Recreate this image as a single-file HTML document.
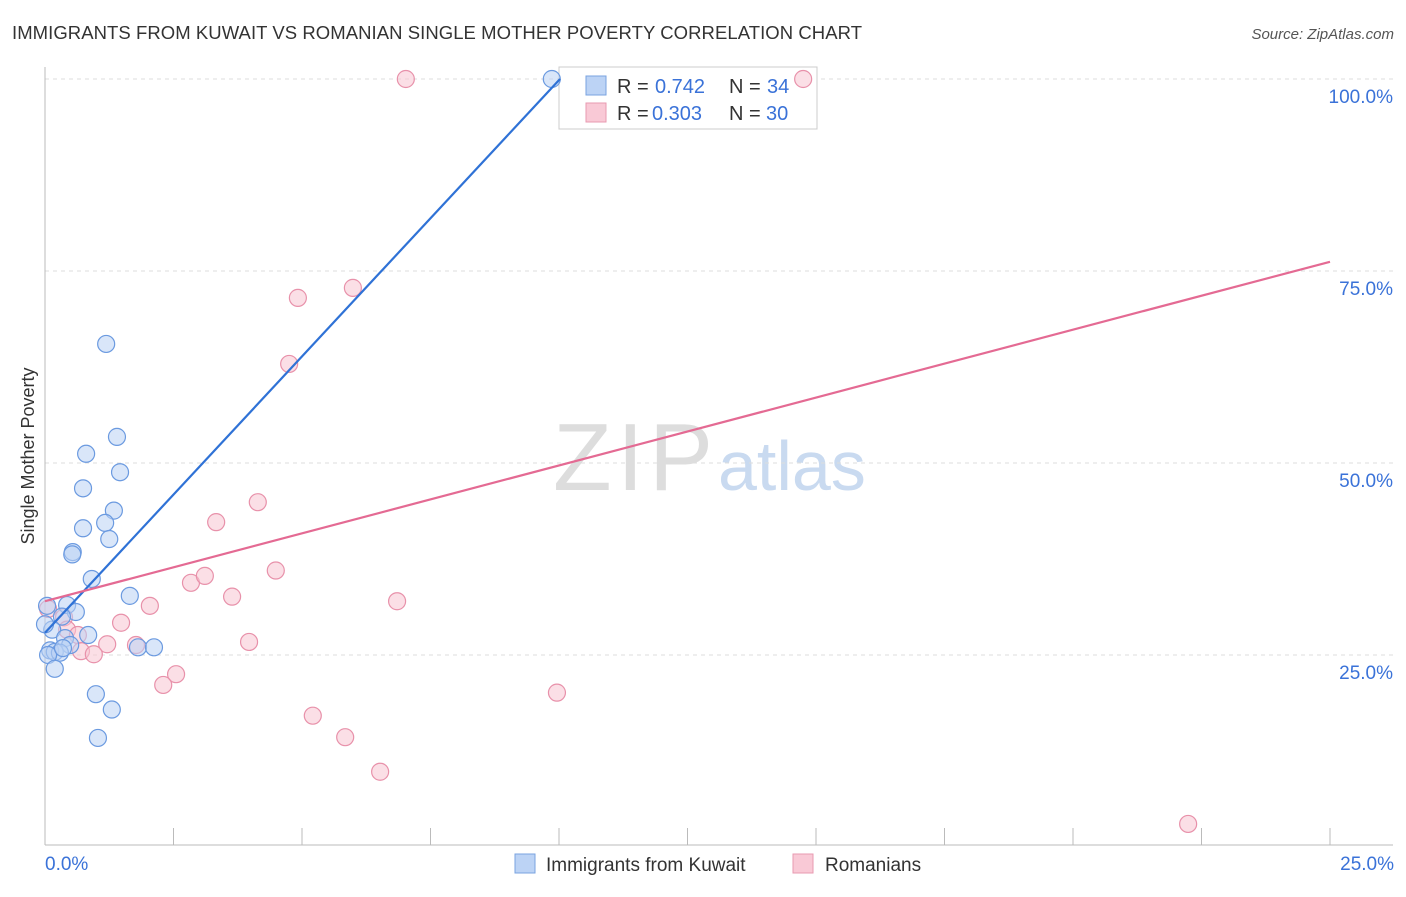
<!DOCTYPE html>
<html><head><meta charset="utf-8"><style>
body{margin:0;background:#fff;font-family:"Liberation Sans",sans-serif;}
svg text{font-family:"Liberation Sans",sans-serif;}
</style></head><body>
<svg id="c" width="1406" height="892" xmlns="http://www.w3.org/2000/svg">
<text x="12" y="39" font-size="18.5" fill="#333" textLength="850">IMMIGRANTS FROM KUWAIT VS ROMANIAN SINGLE MOTHER POVERTY CORRELATION CHART</text>
<text x="1394" y="39" font-size="15" fill="#555" font-style="italic" text-anchor="end">Source: ZipAtlas.com</text>
<g>
<text x="553" y="490" font-size="96" fill="#ddd" font-family="Liberation Serif, serif" textLength="160">ZIP</text>
<text x="718" y="490" font-size="70" fill="#c9daf0">atlas</text>
</g>
<g id="grid"></g><g id="axes"></g>
<g>
<rect x="559" y="67" width="258" height="62" fill="#fff" stroke="#ccc"/>
<rect x="586" y="76" width="20" height="19" fill="#bcd3f5" stroke="#7aa3e0"/>
<text x="617" y="93" font-size="20" fill="#333">R =</text>
<text x="655" y="93" font-size="20" fill="#3a72d8">0.742</text>
<text x="729" y="93" font-size="20" fill="#333">N =</text>
<text x="767" y="93" font-size="20" fill="#3a72d8">34</text>
<rect x="586" y="103" width="20" height="19" fill="#f9c9d6" stroke="#e89ab0"/>
<text x="617" y="120" font-size="20" fill="#333">R =</text>
<text x="652" y="120" font-size="20" fill="#3a72d8">0.303</text>
<text x="729" y="120" font-size="20" fill="#333">N =</text>
<text x="766" y="120" font-size="20" fill="#3a72d8">30</text>
</g>
<g id="marks"></g>
<text transform="translate(34,456) rotate(-90)" font-size="18" fill="#333" text-anchor="middle">Single Mother Poverty</text>
<text x="45" y="870" font-size="19" fill="#3a72d8">0.0%</text>
<text x="1394" y="870" font-size="19" fill="#3a72d8" text-anchor="end">25.0%</text>
<g>
<rect x="515" y="854" width="20" height="19" fill="#bcd3f5" stroke="#7aa3e0"/>
<text x="546" y="871" font-size="19" fill="#333">Immigrants from Kuwait</text>
<rect x="793" y="854" width="20" height="19" fill="#f9c9d6" stroke="#e89ab0"/>
<text x="825" y="871" font-size="19" fill="#333">Romanians</text>
</g>
</svg>
<script>
const yTicks=[25,50,75,100];
const yTickLabels=["25.0%","50.0%","75.0%","100.0%"];
const kuwaitX=[9.86,1.19,1.40,0.80,1.46,0.74,1.34,1.17,0.74,1.25,0.54,0.53,0.91,1.65,0.43,0.04,0.60,0.33,0.14,0.84,0.39,0.49,1.81,2.12,0.10,0.19,0.29,0.06,0.19,0.99,1.30,1.03,0.35,0.0];
const kuwaitY=[100,65.5,53.4,51.2,48.8,46.7,43.8,42.2,41.5,40.1,38.4,38.1,34.9,32.7,31.5,31.4,30.6,30.0,28.3,27.6,27.2,26.3,26.0,26.0,25.6,25.4,25.3,25.0,23.2,19.9,17.9,14.2,25.9,29.0];
const romX=[7.02,14.75,4.92,5.99,4.75,4.14,3.33,2.84,3.11,3.64,4.49,2.04,6.85,1.48,0.37,0.43,0.64,1.21,1.77,3.97,0.70,0.95,2.55,2.30,5.21,5.84,6.52,9.96,22.24,0.06];
const romY=[100,100,71.5,72.8,62.9,44.9,42.3,34.4,35.3,32.6,36.0,31.4,32.0,29.2,29.9,28.3,27.6,26.4,26.3,26.7,25.5,25.1,22.5,21.1,17.1,14.3,9.8,20.1,3.0,31.0];
const kuwaitTrend=[0,27.9,10.02,100];
const romTrend=[0,32.0,25,76.2];
const NS="http://www.w3.org/2000/svg";
const xs=v=>45+v/25*1285, ys=v=>847-v*7.68;
function mk(t,a,p){const e=document.createElementNS(NS,t);for(const k in a)e.setAttribute(k,a[k]);document.getElementById(p).appendChild(e);return e;}
yTicks.forEach((t,i)=>{
 const g=mk('line',{x1:45,x2:1393,y1:ys(t),y2:ys(t),stroke:'#ddd','stroke-dasharray':'4,4'},'grid');
 
 
 const l=mk('text',{x:1393,y:ys(t)+24,'font-size':19,fill:'#3a72d8','text-anchor':'end'},'axes');
 l.textContent=yTickLabels[i];
 
 
});
const a1=mk('line',{x1:45,x2:45,y1:67,y2:845,stroke:'#bbb'},'axes');


const a2=mk('line',{x1:45,x2:1393,y1:845,y2:845,stroke:'#bbb'},'axes');


for(let i=0;i<=10;i++){const t=mk('line',{x1:xs(i*2.5),x2:xs(i*2.5),y1:828,y2:845,stroke:'#bbb'},'axes');
 
 }
function pts(X,Y,f,s,n){X.forEach((x,i)=>{const c=mk('circle',{cx:xs(x),cy:ys(Y[i]),r:8.5,fill:f,'fill-opacity':0.55,stroke:s,'stroke-width':1.2},'marks');
 
 });}
pts(romX,romY,'#f8c4d2','#e891aa','romanian-point');
pts(kuwaitX,kuwaitY,'#b9d1f4','#6b9ae0','kuwait-point');
const t1=mk('line',{x1:xs(kuwaitTrend[0]),y1:ys(kuwaitTrend[1]),x2:xs(kuwaitTrend[2]),y2:ys(kuwaitTrend[3]),stroke:'#2f72d6','stroke-width':2.2},'marks');


const t2=mk('line',{x1:xs(romTrend[0]),y1:ys(romTrend[1]),x2:xs(romTrend[2]),y2:ys(romTrend[3]),stroke:'#e46a93','stroke-width':2.2},'marks');


</script>
</body></html>
